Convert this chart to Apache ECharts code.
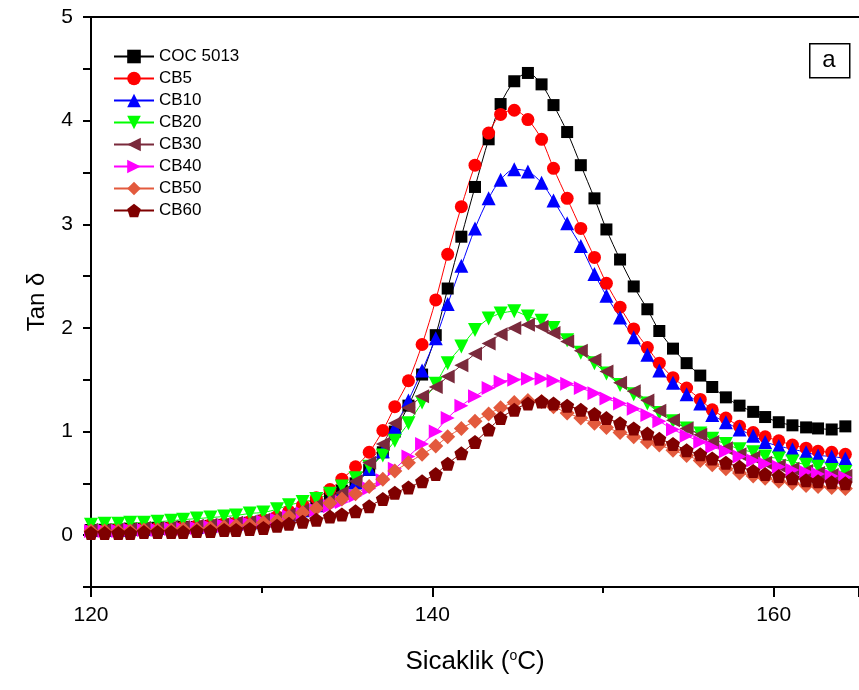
<!DOCTYPE html>
<html>
<head>
<meta charset="utf-8">
<script src="https://cdn.jsdelivr.net/npm/echarts@6/dist/echarts.min.js"></script>
<style>
  html, body { margin: 0; padding: 0; background: #fff; overflow: hidden; }
  #chart { width: 859px; height: 690px; }
</style>
</head>
<body>
<div id="chart"></div>
<script>
// Temperature (°C) at which tan δ was recorded
const temperature = [
  120.0, 120.8, 121.6, 122.3, 123.1, 123.9, 124.7, 125.4, 126.2, 127.0,
  127.8, 128.5, 129.3, 130.1, 130.9, 131.6, 132.4, 133.2, 134.0, 134.7,
  135.5, 136.3, 137.1, 137.8, 138.6, 139.4, 140.2, 140.9, 141.7, 142.5,
  143.3, 144.0, 144.8, 145.6, 146.4, 147.1, 147.9, 148.7, 149.5, 150.2,
  151.0, 151.8, 152.6, 153.3, 154.1, 154.9, 155.7, 156.4, 157.2, 158.0,
  158.8, 159.5, 160.3, 161.1, 161.9, 162.6, 163.4, 164.2
];

// tan δ for each sample
const coc5013 = [
  0.05, 0.05, 0.05, 0.06, 0.06, 0.07, 0.07, 0.08, 0.08, 0.09,
  0.10, 0.11, 0.12, 0.14, 0.16, 0.20, 0.24, 0.30, 0.36, 0.43,
  0.50, 0.63, 0.80, 1.00, 1.25, 1.55, 1.93, 2.38, 2.88, 3.36,
  3.82, 4.16, 4.38, 4.46, 4.35, 4.15, 3.89, 3.57, 3.25, 2.95,
  2.66, 2.40, 2.18, 1.97, 1.80, 1.66, 1.54, 1.43, 1.33, 1.25,
  1.19, 1.14, 1.09, 1.06, 1.04, 1.03, 1.02, 1.05
];
const cb5 = [
  0.05, 0.05, 0.06, 0.06, 0.07, 0.07, 0.08, 0.08, 0.09, 0.10,
  0.11, 0.12, 0.13, 0.15, 0.18, 0.23, 0.29, 0.36, 0.44, 0.54,
  0.66, 0.80, 1.01, 1.24, 1.49, 1.84, 2.27, 2.71, 3.17, 3.57,
  3.88, 4.06, 4.10, 4.01, 3.82, 3.54, 3.25, 2.96, 2.68, 2.43,
  2.20, 1.99, 1.81, 1.66, 1.52, 1.42, 1.31, 1.21, 1.13, 1.05,
  0.99, 0.95, 0.91, 0.87, 0.84, 0.81, 0.80, 0.78
];
const cb10 = [
  0.05, 0.05, 0.05, 0.06, 0.06, 0.07, 0.07, 0.08, 0.08, 0.09,
  0.10, 0.11, 0.12, 0.14, 0.16, 0.20, 0.24, 0.29, 0.35, 0.42,
  0.51, 0.64, 0.81, 1.04, 1.30, 1.59, 1.90, 2.23, 2.60, 2.96,
  3.25, 3.43, 3.53, 3.51, 3.40, 3.23, 3.01, 2.79, 2.52, 2.31,
  2.10, 1.91, 1.74, 1.59, 1.47, 1.36, 1.27, 1.16, 1.09, 1.02,
  0.96, 0.90, 0.86, 0.83, 0.80, 0.77, 0.76, 0.74
];
const cb20 = [
  0.10, 0.11, 0.11, 0.12, 0.12, 0.13, 0.14, 0.15, 0.16, 0.17,
  0.18, 0.19, 0.21, 0.22, 0.25, 0.29, 0.32, 0.35, 0.40, 0.47,
  0.55, 0.66, 0.77, 0.91, 1.08, 1.28, 1.46, 1.66, 1.82, 1.98,
  2.09, 2.14, 2.16, 2.11, 2.07, 2.00, 1.88, 1.76, 1.66, 1.56,
  1.45, 1.36, 1.27, 1.18, 1.10, 1.03, 0.98, 0.93, 0.88, 0.83,
  0.80, 0.76, 0.74, 0.71, 0.68, 0.66, 0.63, 0.61
];
const cb30 = [
  0.05, 0.05, 0.06, 0.06, 0.07, 0.07, 0.08, 0.08, 0.09, 0.10,
  0.11, 0.12, 0.13, 0.15, 0.17, 0.20, 0.24, 0.29, 0.34, 0.41,
  0.52, 0.70, 0.88, 1.08, 1.23, 1.34, 1.43, 1.53, 1.64, 1.75,
  1.85, 1.94, 2.00, 2.03, 2.01, 1.95, 1.87, 1.78, 1.69, 1.58,
  1.47, 1.39, 1.30, 1.20, 1.11, 1.03, 0.97, 0.90, 0.84, 0.78,
  0.75, 0.70, 0.67, 0.64, 0.62, 0.60, 0.58, 0.57
];
const cb40 = [
  0.04, 0.04, 0.04, 0.05, 0.05, 0.05, 0.06, 0.06, 0.07, 0.08,
  0.09, 0.10, 0.11, 0.13, 0.15, 0.18, 0.21, 0.24, 0.28, 0.32,
  0.38, 0.45, 0.53, 0.64, 0.76, 0.88, 1.00, 1.13, 1.25, 1.34,
  1.42, 1.48, 1.50, 1.51, 1.51, 1.49, 1.46, 1.42, 1.37, 1.32,
  1.27, 1.22, 1.16, 1.10, 1.02, 0.96, 0.90, 0.85, 0.81, 0.76,
  0.72, 0.69, 0.66, 0.63, 0.61, 0.59, 0.57, 0.56
];
const cb50 = [
  0.04, 0.04, 0.04, 0.04, 0.05, 0.05, 0.05, 0.06, 0.06, 0.07,
  0.08, 0.09, 0.10, 0.12, 0.14, 0.18, 0.22, 0.26, 0.31, 0.35,
  0.40, 0.47, 0.54, 0.62, 0.70, 0.78, 0.86, 0.95, 1.03, 1.10,
  1.17, 1.23, 1.28, 1.30, 1.29, 1.24, 1.18, 1.13, 1.08, 1.04,
  0.99, 0.95, 0.90, 0.87, 0.82, 0.77, 0.72, 0.68, 0.64, 0.60,
  0.57, 0.55, 0.52, 0.50, 0.48, 0.47, 0.46, 0.45
];
const cb60 = [
  0.02, 0.02, 0.02, 0.02, 0.03, 0.03, 0.03, 0.03, 0.04, 0.04,
  0.05, 0.05, 0.06, 0.07, 0.09, 0.11, 0.13, 0.15, 0.18, 0.20,
  0.23, 0.28, 0.35, 0.41, 0.46, 0.52, 0.59, 0.69, 0.79, 0.90,
  1.02, 1.13, 1.21, 1.27, 1.29, 1.27, 1.25, 1.21, 1.17, 1.13,
  1.08, 1.03, 0.98, 0.93, 0.88, 0.82, 0.78, 0.74, 0.70, 0.66,
  0.62, 0.59, 0.57, 0.55, 0.53, 0.52, 0.51, 0.50
];

const seriesNames = ['COC 5013', 'CB5', 'CB10', 'CB20', 'CB30', 'CB40', 'CB50', 'CB60'];
const seriesValues = [coc5013, cb5, cb10, cb20, cb30, cb40, cb50, cb60];

// labelled x values and the unlabelled minor ticks between them
const xTickLabels = [120, 140, 160];
const xMinorTicks = [130, 150];
const yTickLabels = ['0', '1', '2', '3', '4', '5'];

const FONT = 'Liberation Sans, Arial, sans-serif';
const PENTAGON = 'path://M50 0 L97.55 34.55 L79.39 90.45 L20.61 90.45 L2.45 34.55 Z';

const looks = [
  { color: '#000000', symbol: 'rect', size: 12, rotate: 0 },
  { color: '#ff0000', symbol: 'circle', size: 13, rotate: 0 },
  { color: '#0000ff', symbol: 'triangle', size: 14, rotate: 0 },
  { color: '#00ff00', symbol: 'triangle', size: 14, rotate: 180 },
  { color: '#7a2a3c', symbol: 'triangle', size: 14, rotate: 90 },
  { color: '#ff00ff', symbol: 'triangle', size: 14, rotate: -90 },
  { color: '#e35a3d', symbol: 'diamond', size: 15, rotate: 0 },
  { color: '#7f0000', symbol: PENTAGON, size: 14, rotate: 0 }
];

const series = seriesNames.map((name, k) => ({
  name: name,
  type: 'line',
  xAxisIndex: 0,
  yAxisIndex: 0,
  data: temperature.map((t, i) => [t, seriesValues[k][i]]),
  smooth: 0.3,
  showSymbol: true,
  showAllSymbol: true,
  symbol: looks[k].symbol,
  symbolSize: looks[k].size,
  symbolRotate: looks[k].rotate,
  itemStyle: { color: looks[k].color },
  lineStyle: { color: looks[k].color, width: 1 },
  emphasis: { disabled: true },
  animation: false
}));

const chart = echarts.init(document.getElementById('chart'), null, { renderer: 'canvas' });

// the plot runs a little past the right edge of the page
const X_MIN = 120;
const X_MAX = 165;
const GRID = { left: 91, right: -3, top: 17, bottom: 103 };
const PLOT_HEIGHT = 690 - GRID.top - GRID.bottom;

chart.setOption({
  backgroundColor: '#ffffff',
  animation: false,
  grid: Object.assign({ containLabel: false }, GRID),
  legend: {
    orient: 'vertical',
    left: 113,
    top: 48,
    padding: 0,
    itemGap: 5,
    itemWidth: 40,
    itemHeight: 17,
    selectedMode: false,
    data: seriesNames,
    textStyle: { fontFamily: FONT, fontSize: 17, color: '#000' }
  },
  xAxis: [
    {
      type: 'value',
      min: X_MIN,
      max: X_MAX,
      position: 'bottom',
      axisLine: { show: true, onZero: false, lineStyle: { color: '#000', width: 2 } },
      axisTick: { show: false },
      splitLine: { show: false },
      axisLabel: {
        color: '#000',
        fontFamily: FONT,
        fontSize: 21,
        margin: 18,
        customValues: xTickLabels
      },
      name: 'Sicaklik ({sup|o}C)',
      nameLocation: 'middle',
      nameGap: 62,
      nameTextStyle: {
        color: '#000',
        fontFamily: FONT,
        fontSize: 26,
        rich: {
          sup: { fontFamily: FONT, fontSize: 14, color: '#000', verticalAlign: 'top', padding: [0, 0, 12, 0] }
        }
      }
    },
    // major ticks below the bottom edge, hung from a top axis shifted down
    {
      type: 'value',
      min: X_MIN,
      max: X_MAX,
      interval: 20,
      position: 'top',
      offset: -PLOT_HEIGHT,
      axisLine: { show: false, onZero: false },
      axisTick: { show: true, inside: true, length: 10, lineStyle: { color: '#000', width: 2 } },
      axisLabel: { show: false },
      splitLine: { show: false }
    },
    {
      type: 'value',
      min: X_MIN,
      max: X_MAX,
      position: 'bottom',
      axisLine: { show: false, onZero: false },
      axisTick: { show: true, length: 6, customValues: xMinorTicks, lineStyle: { color: '#000', width: 2 } },
      axisLabel: { show: false },
      splitLine: { show: false }
    },
    {
      type: 'value',
      min: X_MIN,
      max: X_MAX,
      position: 'top',
      axisLine: { show: true, onZero: false, lineStyle: { color: '#000', width: 2 } },
      axisTick: { show: false },
      axisLabel: { show: false },
      splitLine: { show: false }
    }
  ],
  yAxis: {
    type: 'value',
    min: -0.5,
    max: 5,
    interval: 0.5,
    axisLine: { show: true, onZero: false, lineStyle: { color: '#000', width: 2 } },
    axisTick: { show: true, length: 8, lineStyle: { color: '#000', width: 2 } },
    splitLine: { show: false },
    axisLabel: {
      color: '#000',
      fontFamily: FONT,
      fontSize: 21,
      margin: 18,
      formatter: v => {
        const s = String(v);
        return yTickLabels.indexOf(s) >= 0 ? s : '';
      }
    },
    name: 'Tan δ',
    nameLocation: 'middle',
    nameGap: 42,
    nameRotate: 90,
    nameTextStyle: { color: '#000', fontFamily: FONT, fontSize: 24 }
  },
  graphic: [
    {
      type: 'rect',
      left: 809,
      top: 43,
      shape: { width: 40, height: 34 },
      style: { fill: '#fff', stroke: '#000', lineWidth: 1.5 },
      z: 100
    },
    {
      type: 'text',
      x: 829,
      y: 60,
      style: {
        text: 'a',
        fontFamily: FONT,
        fontSize: 24,
        fill: '#000',
        align: 'center',
        verticalAlign: 'middle'
      },
      z: 101
    }
  ],
  series: series
});
</script>
</body>
</html>
